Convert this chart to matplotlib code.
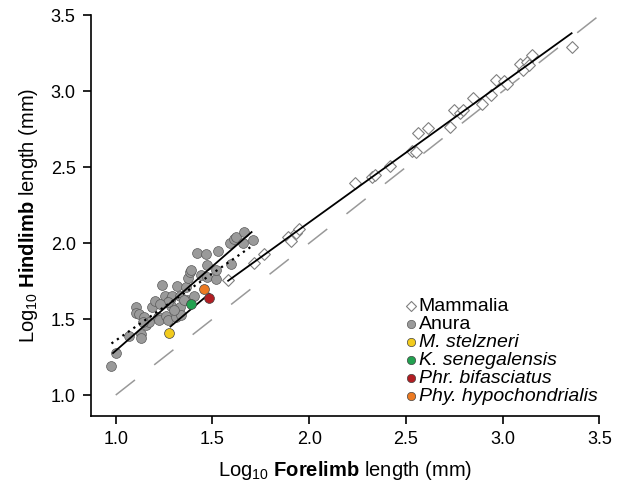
import matplotlib
matplotlib.use('Agg')
import matplotlib.pyplot as plt
import numpy as np

plt.rcParams['font.family'] = ['Liberation Sans', 'DejaVu Sans']
plt.rcParams['mathtext.fontset'] = 'custom'
plt.rcParams['mathtext.rm'] = 'Liberation Sans'
plt.rcParams['mathtext.bf'] = 'Liberation Sans:bold'
plt.rcParams['mathtext.it'] = 'Liberation Sans:italic'

# Mammalia (log10 forelimb, log10 hindlimb)
mam_x = [1.581, 1.714, 1.765, 1.891, 1.908, 1.931, 1.948, 2.236, 2.327, 2.339,
         2.420, 2.529, 2.551, 2.563, 2.615, 2.727, 2.748, 2.779, 2.796, 2.844,
         2.891, 2.937, 2.965, 3.006, 3.020, 3.089, 3.103, 3.124, 3.137, 3.153, 3.356]
mam_y = [1.760, 1.868, 1.930, 2.043, 2.011, 2.066, 2.092, 2.399, 2.438, 2.449,
         2.509, 2.609, 2.603, 2.728, 2.757, 2.763, 2.877, 2.855, 2.877, 2.954,
         2.916, 2.976, 3.074, 3.068, 3.048, 3.180, 3.140, 3.195, 3.173, 3.239, 3.293]

# Anura
anu_x = [0.978, 1.003, 1.069, 1.128, 1.133, 1.107, 1.103, 1.121, 1.145, 1.155,
         1.172, 1.185, 1.202, 1.219, 1.224, 1.241, 1.253, 1.262, 1.270, 1.279,
         1.293, 1.288, 1.310, 1.317, 1.334, 1.339, 1.362, 1.369, 1.374, 1.383,
         1.391, 1.403, 1.420, 1.443, 1.469, 1.472, 1.472, 1.517, 1.517, 1.529,
         1.598, 1.593, 1.610, 1.624, 1.658, 1.662, 1.707, 1.270, 1.330, 1.352,
         1.231, 1.140, 1.300]
anu_y = [1.193, 1.280, 1.386, 1.403, 1.375, 1.579, 1.540, 1.535, 1.513, 1.463,
         1.484, 1.579, 1.622, 1.517, 1.491, 1.724, 1.649, 1.522, 1.495, 1.627,
         1.649, 1.583, 1.517, 1.719, 1.579, 1.529, 1.714, 1.627, 1.770, 1.807,
         1.824, 1.649, 1.938, 1.791, 1.929, 1.857, 1.776, 1.763, 1.820, 1.951,
         1.862, 2.000, 2.026, 2.043, 2.000, 2.076, 2.019, 1.610, 1.649, 1.627,
         1.600, 1.480, 1.560]

# focal species
sp_names = ['M. stelzneri', 'K. senegalensis', 'Phr. bifasciatus', 'Phy. hypochondrialis']
sp_x = [1.276, 1.391, 1.482, 1.457]
sp_y = [1.408, 1.601, 1.636, 1.697]
sp_colors = ['#f2cb1d', '#22a150', '#b21d22', '#ec7a22']

# fitted lines: slope, intercept, x range
fit_anura = (1.112, 0.180, 0.986, 1.702)
fit_anura_dot = (0.883, 0.476, 0.978, 1.702)
fit_species = (1.075, 0.072, 1.283, 1.483)
fit_mammal = (0.918, 0.301, 1.581, 3.356)

fig = plt.figure(figsize=(6.18, 4.95), dpi=100)
ax = fig.add_axes([0.1472, 0.1596, 0.8228, 0.8095])

# 1:1 line
iso, = ax.plot([1.0, 3.5], [1.0, 3.5], color='#999999', lw=1.1, zorder=1)
iso.set_dashes([16, 16])

ax.scatter(mam_x, mam_y, marker='D', s=36, facecolor='white', edgecolor='#808080',
           linewidth=0.8, zorder=2, label='Mammalia')
ax.scatter(anu_x, anu_y, marker='o', s=50, facecolor='#9a9a9a', edgecolor='#5a5a5a',
           linewidth=0.5, zorder=2, label='Anura')


def draw_fit(fit, **kw):
    m, b, x0, x1 = fit
    xs = np.array([x0, x1])
    ax.plot(xs, m * xs + b, color='black', zorder=3, **kw)


draw_fit(fit_anura, lw=1.3)
draw_fit(fit_anura_dot, lw=1.6, linestyle=(0, (1, 2)))
draw_fit(fit_species, lw=1.3)
draw_fit(fit_mammal, lw=1.3)

for name, x, y, c in zip(sp_names, sp_x, sp_y, sp_colors):
    ax.scatter([x], [y], marker='o', s=50, facecolor=c, edgecolor='#444444',
               linewidth=0.5, zorder=4, label=name)

ax.set_xlim(0.872, 3.5)
ax.set_ylim(0.862, 3.5)
ax.set_xticks([1.0, 1.5, 2.0, 2.5, 3.0, 3.5])
ax.set_yticks([1.0, 1.5, 2.0, 2.5, 3.0, 3.5])
ax.spines['top'].set_visible(False)
ax.spines['right'].set_visible(False)
for s in ['left', 'bottom']:
    ax.spines[s].set_linewidth(1.2)
ax.tick_params(direction='out', length=6, width=1.2, labelsize=13, pad=5)

ax.set_xlabel(r'Log$_{10}$ $\mathbf{Forelimb}$ length (mm)', fontsize=14.5, labelpad=8)
ax.set_ylabel(r'Log$_{10}$ $\mathbf{Hindlimb}$ length (mm)', fontsize=14.5, labelpad=8)

leg = ax.legend(loc='lower right', bbox_to_anchor=(1.0, 0.022), frameon=False,
                fontsize=14, handletextpad=0.05, labelspacing=0.02,
                handlelength=0.7, borderpad=0.1, borderaxespad=0.0, markerscale=0.85)
for t in leg.get_texts()[2:]:
    t.set_style('italic')

fig.savefig('out.png', dpi=100)
